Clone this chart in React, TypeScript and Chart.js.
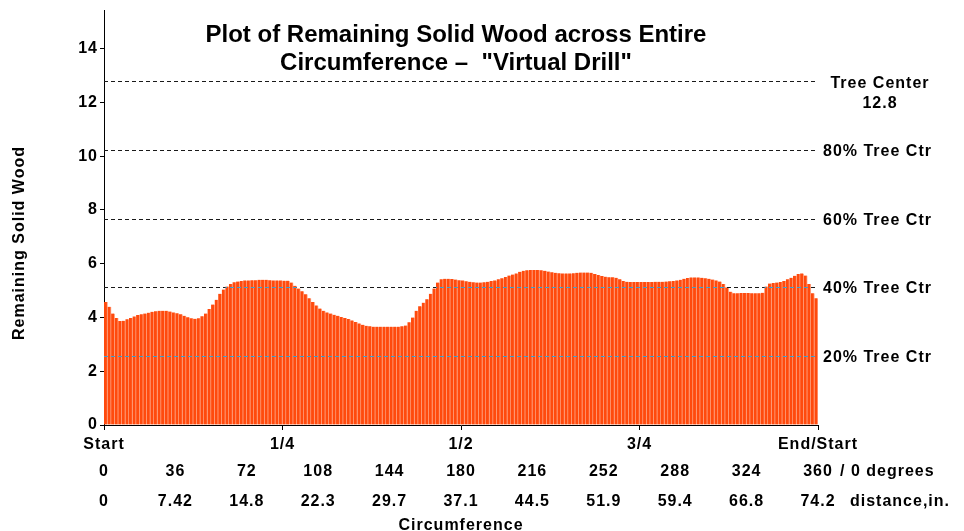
import { useEffect, useRef } from "react";
import { Chart, registerables } from "chart.js";

Chart.register(...registerables);

// Remaining solid wood readings around the circumference (200 readings, Start -> End/Start)
const remainingWood: number[] = [
  4.58, 4.4, 4.15, 3.98, 3.87, 3.88, 3.93, 3.98, 4.04, 4.09,
  4.12, 4.15, 4.18, 4.21, 4.23, 4.25, 4.25, 4.25, 4.22, 4.19,
  4.16, 4.12, 4.06, 4.01, 3.97, 3.95, 3.97, 4.05, 4.15, 4.32,
  4.48, 4.66, 4.88, 5.04, 5.15, 5.25, 5.31, 5.34, 5.36, 5.38,
  5.38, 5.39, 5.39, 5.4, 5.4, 5.4, 5.39, 5.38, 5.38, 5.38,
  5.37, 5.37, 5.3, 5.18, 5.08, 4.98, 4.86, 4.72, 4.58, 4.45,
  4.33, 4.25, 4.19, 4.15, 4.1, 4.06, 4.02, 3.98, 3.94, 3.89,
  3.83, 3.78, 3.73, 3.69, 3.67, 3.66, 3.66, 3.66, 3.66, 3.66,
  3.66, 3.66, 3.66, 3.67, 3.7, 3.82, 4.0, 4.25, 4.42, 4.55,
  4.68, 4.88, 5.08, 5.3, 5.42, 5.44, 5.44, 5.43, 5.41, 5.39,
  5.38, 5.35, 5.33, 5.31, 5.3, 5.3, 5.31, 5.33, 5.36, 5.38,
  5.42, 5.46, 5.51, 5.56, 5.6, 5.64, 5.7, 5.74, 5.76, 5.77,
  5.77, 5.77, 5.76, 5.74, 5.71, 5.68, 5.66, 5.65, 5.64, 5.64,
  5.64, 5.65, 5.66, 5.67, 5.67, 5.67, 5.66, 5.62, 5.58, 5.54,
  5.52, 5.5, 5.5, 5.48, 5.42, 5.36, 5.33, 5.32, 5.32, 5.32,
  5.32, 5.32, 5.32, 5.32, 5.33, 5.33, 5.33, 5.34, 5.35, 5.36,
  5.38, 5.4, 5.44, 5.47, 5.49, 5.49, 5.49, 5.48, 5.46, 5.44,
  5.41, 5.38, 5.34, 5.25, 5.12, 4.96, 4.9, 4.9, 4.91, 4.91,
  4.91, 4.9, 4.9, 4.9, 4.92, 5.15, 5.26, 5.28, 5.3, 5.32,
  5.36, 5.42, 5.48, 5.55, 5.62, 5.64, 5.56, 5.25, 4.9, 4.72,
];

const quarterLabels = ["Start", "1/4", "1/2", "3/4", "End/Start"];
const quarterDegrees = [0, 90, 180, 270, 360];
const degreeTicks = [0, 36, 72, 108, 144, 180, 216, 252, 288, 324, 360];
const distanceLabels = ["0", "7.42", "14.8", "22.3", "29.7", "37.1", "44.5", "51.9", "59.4", "66.8", "74.2"];
const yTicks = [0, 2, 4, 6, 8, 10, 12, 14];
const treeCenter = 12.8;
const refFractions = [1, 0.8, 0.6, 0.4, 0.2];
const refLabels = ["Tree Center", "80% Tree Ctr", "60% Tree Ctr", "40% Tree Ctr", "20% Tree Ctr"];
const titleLines = ["Plot of Remaining Solid Wood across Entire", "Circumference \u2013  \"Virtual Drill\""];
const yTitle = "Remaining Solid Wood";
const xTitle = "Circumference";
const degreesSuffix = "/ 0 degrees";
const distanceSuffix = "distance,in.";

const FONT = "'Liberation Sans', Arial, Helvetica, sans-serif";

const spacingPlugin = {
  id: "spacing",
  beforeUpdate(chart: any) {
    chart.ctx.letterSpacing = "1px";
  },
  beforeDraw(chart: any) {
    chart.ctx.letterSpacing = "1px";
  },
};

const refLinesPlugin = {
  id: "refLines",
  afterDatasetsDraw(chart: any) {
    const { ctx, chartArea } = chart;
    const y = chart.scales.y;
    const bars = chart.getDatasetMeta(0).data as any[];
    const left = chartArea.left;
    const right = chartArea.right - 1;
    ctx.save();
    ctx.lineWidth = 1;
    ctx.setLineDash([4, 3]);
    refFractions.forEach((f) => {
      const v = treeCenter * f;
      const py = Math.round(y.getPixelForValue(v)) + 0.5;
      ctx.strokeStyle = "#1a1a1a";
      ctx.lineDashOffset = 0;
      ctx.beginPath();
      ctx.moveTo(left, py);
      ctx.lineTo(right, py);
      ctx.stroke();
      let runStart = -1;
      for (let i = 0; i <= bars.length; i++) {
        const above = i < bars.length && remainingWood[i] > v;
        if (above && runStart < 0) runStart = i;
        if (!above && runStart >= 0) {
          const b0 = bars[runStart];
          const b1 = bars[i - 1];
          const x0 = b0.x - b0.width / 2;
          const x1 = Math.min(b1.x + b1.width / 2, right);
          ctx.strokeStyle = "#3d9fcf";
          ctx.lineDashOffset = x0 - left;
          ctx.beginPath();
          ctx.moveTo(x0, py);
          ctx.lineTo(x1, py);
          ctx.stroke();
          runStart = -1;
        }
      }
    });
    ctx.restore();
  },
};

const textPlugin = {
  id: "texts",
  afterDraw(chart: any) {
    const { ctx } = chart;
    const y = chart.scales.y;
    const xD = chart.scales.xD;
    ctx.save();
    ctx.fillStyle = "#000";
    ctx.textBaseline = "alphabetic";

    ctx.letterSpacing = "0px";
    ctx.font = `bold 24px ${FONT}`;
    ctx.textAlign = "center";
    ctx.fillText(titleLines[0], 456, 41.5);
    ctx.fillText(titleLines[1], 456, 69.5);

    ctx.letterSpacing = "1px";
    ctx.font = `bold 16px ${FONT}`;

    ctx.save();
    ctx.translate(24, 243);
    ctx.rotate(-Math.PI / 2);
    ctx.textAlign = "center";
    ctx.fillText(yTitle, 0, 0);
    ctx.restore();

    refFractions.forEach((f, k) => {
      const py = Math.round(y.getPixelForValue(treeCenter * f)) + 0.5;
      if (k === 0) {
        ctx.textAlign = "center";
        ctx.fillText(refLabels[0], 880, py + 1 + 5.7);
        ctx.fillText(String(treeCenter), 880, py + 21 + 5.7);
      } else {
        ctx.textAlign = "left";
        ctx.fillText(refLabels[k], 823, py + 5.7);
      }
    });

    const rowY = (k: number) => xD.top + 17.5 + 30 * k;
    ctx.textAlign = "left";
    ctx.fillText(degreesSuffix, 840, rowY(0) + 5.7);
    ctx.fillText(distanceSuffix, 850, rowY(1) + 5.7);
    ctx.restore();
  },
};

export default function App() {
  const ref = useRef<HTMLCanvasElement>(null);
  useEffect(() => {
    const tickFont = { family: FONT, size: 16, weight: "bold" as const };
    const chart = new Chart(ref.current!, {
      type: "bar",
      data: {
        labels: remainingWood.map((_, i) => String(i)),
        datasets: [
          {
            data: remainingWood,
            backgroundColor: "#ff4a0d",
            borderColor: "#ffab8c",
            borderWidth: { left: 0, right: 1, top: 0, bottom: 0 },
            borderSkipped: false,
            categoryPercentage: 1,
            barPercentage: 1,
            xAxisID: "x",
            yAxisID: "y",
          },
        ],
      },
      options: {
        animation: false,
        responsive: false,
        layout: { padding: { left: 0, right: 146, top: 8, bottom: 0 } },
        plugins: {
          legend: { display: false },
          tooltip: { enabled: false },
          title: { display: false },
        },
        scales: {
          x: { type: "category", display: false, offset: true },
          xQ: {
            type: "linear",
            position: "bottom",
            min: 0,
            max: 360,
            weight: 1,
            z: 1,
            offset: false,
            afterBuildTicks: (s: any) => {
              s.ticks = quarterDegrees.map((v) => ({ value: v }));
            },
            afterFit: (s: any) => {
              s.height = 28;
            },
            ticks: {
              autoSkip: false,
              maxRotation: 0,
              padding: 5,
              color: "#000",
              font: { ...tickFont, lineHeight: 1.2 },
              callback: (_v: any, i: number) => quarterLabels[i],
            },
            grid: { display: true, offset: false, drawOnChartArea: false, drawTicks: true, tickLength: 5, color: "#000", lineWidth: 1 },
            border: { display: true, color: "#000", width: 1 },
          },
          xD: {
            type: "linear",
            position: "bottom",
            min: 0,
            max: 360,
            weight: 2,
            offset: false,
            afterBuildTicks: (s: any) => {
              s.ticks = degreeTicks.map((v) => ({ value: v }));
            },
            afterFit: (s: any) => {
              s.height = 78;
            },
            ticks: {
              autoSkip: false,
              maxRotation: 0,
              padding: -4,
              color: "#000",
              font: { ...tickFont, lineHeight: 1.875 },
              callback: (_v: any, i: number) => [String(degreeTicks[i]), distanceLabels[i]],
            },
            grid: { display: false, offset: false },
            border: { display: false },
            title: {
              display: true,
              text: xTitle,
              color: "#000",
              font: { ...tickFont, lineHeight: 0.7 },
              padding: 0,
            },
          },
          y: {
            type: "linear",
            min: 0,
            max: 15.44,
            z: 1,
            afterBuildTicks: (s: any) => {
              s.ticks = yTicks.map((v) => ({ value: v }));
            },
            afterFit: (s: any) => {
              s.width = 104;
            },
            ticks: {
              padding: 2,
              color: "#000",
              font: { ...tickFont, lineHeight: 1 },
              callback: (v: any) => String(v),
            },
            grid: { display: true, drawOnChartArea: false, drawTicks: true, tickLength: 4, color: "#000" },
            border: { display: true, color: "#000", width: 1 },
          },
        },
      } as any,
      plugins: [spacingPlugin, refLinesPlugin, textPlugin],
    });
    return () => chart.destroy();
  }, []);
  return (
    <div style={{ position: "fixed", left: 0, top: 0, width: 964, height: 531, background: "#fff" }}>
      <canvas ref={ref} width={964} height={531} style={{ display: "block" }} />
    </div>
  );
}
